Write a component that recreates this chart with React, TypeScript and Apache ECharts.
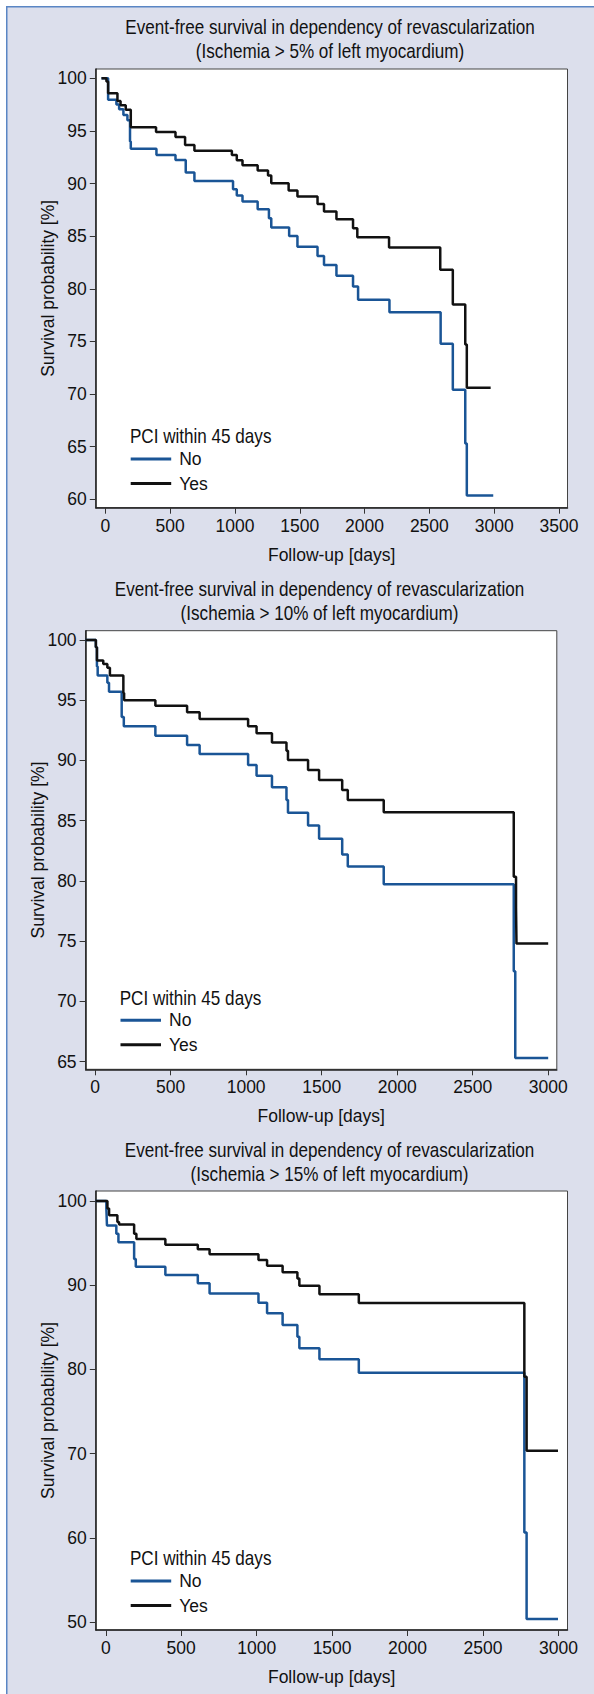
import React, { useEffect, useRef } from 'react';
import * as echarts from 'echarts';

const FONT = "'Liberation Sans', Arial, sans-serif";
const BLUE = '#1a5596';
const BLACK = '#111111';

// Panel 1: Ischemia > 5%
const p1NoDays = [-30, 21, 85, 106, 139, 170, 190, 196, 394, 541, 620, 687, 985, 1014, 1058, 1175, 1262, 1280, 1418, 1482, 1637, 1687, 1783, 1911, 1950, 2192, 2587, 2681, 2777, 2789, 2993];
const p1NoSurv = [100, 97.95, 97.5, 97.05, 96.5, 96.0, 94.0, 93.3, 92.72, 92.24, 91.04, 90.25, 89.46, 88.85, 88.28, 87.56, 86.7, 85.81, 85.02, 84.0, 83.12, 82.27, 81.23, 80.21, 78.95, 77.78, 74.77, 70.4, 65.3, 60.36, 60.36];
const p1YesDays = [-30, 8, 21, 93, 117, 157, 196, 391, 541, 615, 687, 976, 1014, 1058, 1175, 1255, 1280, 1414, 1482, 1637, 1687, 1783, 1911, 1944, 2189, 2584, 2681, 2777, 2789, 2973];
const p1YesSurv = [100, 99.7, 98.57, 97.84, 97.43, 97.0, 95.35, 94.9, 94.42, 93.65, 93.12, 92.72, 92.21, 91.74, 91.23, 90.75, 90.03, 89.33, 88.76, 88.06, 87.33, 86.61, 85.75, 84.9, 83.91, 81.8, 78.5, 74.7, 70.6, 70.6];
const p1XTicks = [0, 500, 1000, 1500, 2000, 2500, 3000, 3500];
const p1YTicks = [60, 65, 70, 75, 80, 85, 90, 95, 100];

// Panel 2: Ischemia > 10%
const p2NoDays = [-63, 5, 12, 17, 81, 92, 176, 190, 399, 609, 692, 1013, 1069, 1171, 1267, 1277, 1410, 1483, 1636, 1673, 1911, 2772, 2782, 3000];
const p2NoSurv = [100, 99.4, 97.8, 97.05, 96.45, 95.7, 93.6, 92.85, 92.06, 91.29, 90.54, 89.63, 88.74, 87.77, 86.72, 85.67, 84.6, 83.5, 82.2, 81.2, 79.72, 72.5, 65.3, 65.3];
const p2YesDays = [-63, 5, 12, 54, 81, 98, 187, 192, 399, 609, 692, 1013, 1069, 1171, 1267, 1277, 1410, 1483, 1636, 1673, 1911, 2772, 2787, 2790, 3000];
const p2YesSurv = [100, 99.4, 98.3, 98.0, 97.7, 97.05, 95.6, 95.0, 94.55, 94.0, 93.45, 92.85, 92.25, 91.5, 90.8, 90.04, 89.2, 88.38, 87.55, 86.72, 85.7, 80.36, 77.8, 74.8, 74.8];
const p2XTicks = [0, 500, 1000, 1500, 2000, 2500, 3000];
const p2YTicks = [65, 70, 75, 80, 85, 90, 95, 100];

// Panel 3: Ischemia > 15%
const p3NoDays = [-66, 4, 8, 70, 84, 188, 199, 395, 610, 688, 1012, 1069, 1172, 1270, 1283, 1416, 1677, 2774, 2789, 2997];
const p3NoSurv = [100, 99.1, 97.1, 96.1, 95.1, 93.1, 92.2, 91.21, 90.22, 89.03, 87.93, 86.66, 85.27, 83.89, 82.5, 81.2, 79.61, 60.64, 50.36, 50.36];
const p3YesDays = [-66, 11, 22, 77, 88, 188, 203, 395, 610, 688, 1012, 1069, 1172, 1270, 1283, 1416, 1677, 2774, 2789, 2997];
const p3YesSurv = [100, 99.1, 98.3, 97.5, 97.2, 96.1, 95.5, 94.8, 94.26, 93.67, 93.0, 92.32, 91.53, 90.8, 89.94, 88.92, 87.89, 79.14, 70.35, 70.35];
const p3XTicks = [0, 500, 1000, 1500, 2000, 2500, 3000];
const p3YTicks = [50, 60, 70, 80, 90, 100];

const titles = [
  'Event-free survival in dependency of revascularization\n(Ischemia > 5% of left myocardium)',
  'Event-free survival in dependency of revascularization\n(Ischemia > 10% of left myocardium)',
  'Event-free survival in dependency of revascularization\n(Ischemia > 15% of left myocardium)',
];
const legendTitle = 'PCI within 45 days';
const seriesNames = ['No', 'Yes'];
const xName = 'Follow-up [days]';
const yName = 'Survival probability [%]';

const zip = (a: number[], b: number[]) => a.map((d, i) => [d, b[i]]);

const panels = [
  { grid: { left: 95.8, top: 69, width: 471.7, height: 438.7 }, xMin: -74, xMax: 3566, yMin: 59.2, yMax: 100.88,
    xTicks: p1XTicks, yTicks: p1YTicks, no: zip(p1NoDays, p1NoSurv), yes: zip(p1YesDays, p1YesSurv),
    titleX: 330, titleY: 38.7, legX: 130.7, legTitleY: 435.7, legTop: 450 },
  { grid: { left: 85.6, top: 630.7, width: 471.2, height: 438.6 }, xMin: -63, xMax: 3057, yMin: 64.37, yMax: 100.77,
    xTicks: p2XTicks, yTicks: p2YTicks, no: zip(p2NoDays, p2NoSurv), yes: zip(p2YesDays, p2YesSurv),
    titleX: 319.5, titleY: 601.3, legX: 120.5, legTitleY: 998.3, legTop: 1011.3 },
  { grid: { left: 95.8, top: 1191, width: 471.7, height: 439 }, xMin: -66, xMax: 3060, yMin: 49.05, yMax: 101.19,
    xTicks: p3XTicks, yTicks: p3YTicks, no: zip(p3NoDays, p3NoSurv), yes: zip(p3YesDays, p3YesSurv),
    titleX: 329.5, titleY: 1161.7, legX: 130.7, legTitleY: 1558.3, legTop: 1572 },
];

const textBase = { fontFamily: FONT, fontSize: 17.5, color: '#111' };
const plain = (v: number) => String(v);

export default function App() {
  const ref = useRef<HTMLDivElement>(null);
  useEffect(() => {
    if (!ref.current) return;
    const chart = echarts.init(ref.current, null, { renderer: 'svg' });
    const option: any = {
      animation: false,
      backgroundColor: '#dcdfec',
      grid: panels.map((p) => ({
        ...p.grid, show: true, backgroundColor: '#ffffff', borderColor: '#444', borderWidth: 1,
        containLabel: false, outerBoundsMode: 'none',
      })),
      xAxis: panels.map((p, i) => ({
        type: 'value', gridIndex: i, min: p.xMin, max: p.xMax,
        name: xName, nameLocation: 'middle', nameGap: 38, nameMoveOverlap: false, nameTextStyle: { ...textBase },
        axisLine: { show: true, onZero: false, lineStyle: { color: '#222', width: 1.5 } },
        axisTick: { show: true, length: 6, customValues: p.xTicks, lineStyle: { color: '#333', width: 1 } },
        axisLabel: { customValues: p.xTicks, margin: 9, formatter: plain, ...textBase },
        splitLine: { show: false },
      })),
      yAxis: panels.map((p, i) => ({
        type: 'value', gridIndex: i, min: p.yMin, max: p.yMax,
        name: yName, nameLocation: 'middle', nameGap: 39, nameRotate: 90, nameMoveOverlap: false, nameTextStyle: { ...textBase },
        axisLine: { show: true, onZero: false, lineStyle: { color: '#222', width: 1.5 } },
        axisTick: { show: true, length: 6, customValues: p.yTicks, lineStyle: { color: '#333', width: 1 } },
        axisLabel: { customValues: p.yTicks, margin: 9, formatter: plain, ...textBase },
        splitLine: { show: false },
      })),
      legend: panels.map((p) => ({
        orient: 'vertical', left: p.legX, top: p.legTop, padding: 0, itemGap: 6.5,
        itemWidth: 40.5, itemHeight: 3, icon: 'rect', data: seriesNames,
        textStyle: { ...textBase, padding: [0, 0, 0, 3] }, selectedMode: false,
      })),
      series: panels.flatMap((p, i) => [
        { name: 'No', type: 'line', step: 'end', xAxisIndex: i, yAxisIndex: i, data: p.no,
          showSymbol: false, symbol: 'none', lineStyle: { color: BLUE, width: 2.5 }, itemStyle: { color: BLUE }, silent: true },
        { name: 'Yes', type: 'line', step: 'end', xAxisIndex: i, yAxisIndex: i, data: p.yes,
          showSymbol: false, symbol: 'none', lineStyle: { color: BLACK, width: 2.5 }, itemStyle: { color: BLACK }, silent: true },
      ]),
      graphic: [
        { type: 'rect', shape: { x: 0, y: 0, width: 6, height: 1694 }, style: { fill: '#ffffff' }, silent: true },
        { type: 'rect', shape: { x: 0, y: 0, width: 594, height: 6 }, style: { fill: '#ffffff' }, silent: true },
        { type: 'line', shape: { x1: 6.75, y1: 6, x2: 6.75, y2: 1694 }, style: { stroke: '#5a86c4', lineWidth: 1.5 }, silent: true },
        { type: 'line', shape: { x1: 6, y1: 6.75, x2: 594, y2: 6.75 }, style: { stroke: '#5a86c4', lineWidth: 1.5 }, silent: true },
        ...panels.map((p, i) => ({
          type: 'text', x: p.titleX, y: p.titleY, scaleX: 0.855, silent: true,
          style: { text: titles[i], textAlign: 'center', textVerticalAlign: 'middle', lineHeight: 24,
            font: `20px ${FONT}`, fill: '#111' },
        })),
        ...panels.map((p) => ({
          type: 'text', x: p.legX - 0.8, y: p.legTitleY, scaleX: 0.855, silent: true,
          style: { text: legendTitle, textAlign: 'left', textVerticalAlign: 'middle', font: `20px ${FONT}`, fill: '#111' },
        })),
      ],
    };
    chart.setOption(option);
    return () => chart.dispose();
  }, []);
  return (
    <div style={{ position: 'absolute', left: 0, top: 0, width: 594, height: 1694, background: '#fff' }}>
      <div ref={ref} style={{ width: 594, height: 1694 }} />
    </div>
  );
}
